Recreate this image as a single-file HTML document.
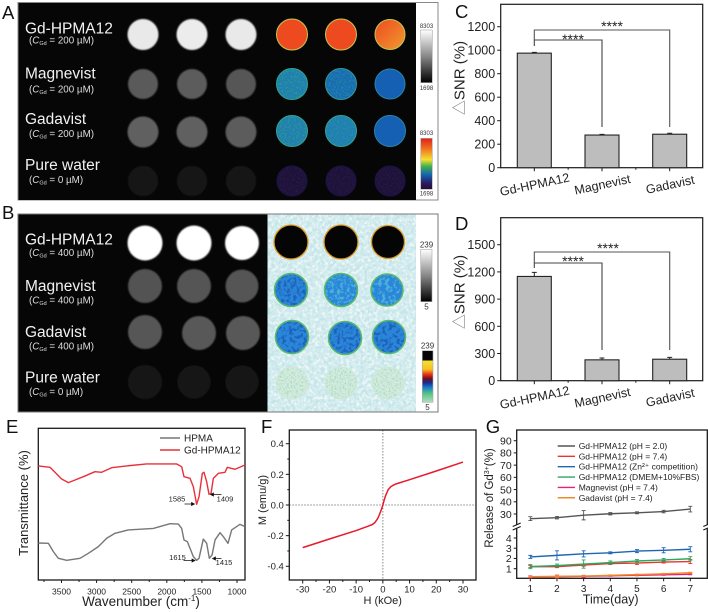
<!DOCTYPE html>
<html lang="en"><head><meta charset="utf-8"><title>Gd-HPMA12 characterization</title>
<style>
html,body{margin:0;padding:0;background:#fff;width:708px;height:612px;overflow:hidden}
svg{display:block}
text{font-family:"Liberation Sans","Noto Sans CJK SC",sans-serif;fill:#222}
.pl{font-size:18.5px;fill:#111}
.nm{font-size:15.5px;fill:#f2f2f2}
.sb{font-size:9.8px;fill:#ddd}
.sb .i{font-style:italic}
.sb .s{font-size:5.5px}
.cb{font-size:6px;text-anchor:middle;fill:#333}
.cb2{font-size:8px}
.sp{filter:url(#spk);opacity:.75}
.sp2{filter:url(#spk2);opacity:.75}
.sf{filter:url(#spk3);opacity:.6}
.sf2{filter:url(#spk4);opacity:.6}
.h1{fill:#1f7fb2;stroke:#34a392;stroke-width:1}
.h2{fill:#186cb2;stroke:#2f9a98;stroke-width:1}
.h3{fill:#1560b2;stroke:#2b84a8;stroke-width:1}
.o1{fill:#3aa97c}
.o2{fill:#3298a0}
.p{fill:#1e1238;stroke:#1a1448;stroke-width:1}
.po{fill:#2e1e54}
.r{fill:#ee4a20;stroke:#c8c850;stroke-width:1}
.k{fill:#050505;stroke:#e09a20;stroke-width:1.3}
.b{fill:#2a86d8;stroke:#5cb86a;stroke-width:1.5}
.bo{fill:#1a55b0}
.bl{fill:#58bedc}
.g{fill:#d4ebe0;stroke:#cfe8d8;stroke-width:1}
.go{fill:#8ccfa6}
</style></head>
<body>
<svg id="fig" xmlns="http://www.w3.org/2000/svg" width="708" height="612" viewBox="0 0 708 612">
<defs>
<filter id="soft"><feGaussianBlur stdDeviation="0.7"/></filter>
<filter id="spk" x="0" y="0" width="1" height="1" color-interpolation-filters="sRGB"><feTurbulence type="fractalNoise" baseFrequency=".32" numOctaves="2" seed="4" result="n"/><feColorMatrix in="n" type="matrix" values="0 0 0 0 0  0 0 0 0 0  0 0 0 0 0  5 0 0 0 -2.3" result="a"/><feComposite in="SourceGraphic" in2="a" operator="in"/></filter>
<filter id="spk2" x="0" y="0" width="1" height="1" color-interpolation-filters="sRGB"><feTurbulence type="fractalNoise" baseFrequency=".28" numOctaves="2" seed="11" result="n"/><feColorMatrix in="n" type="matrix" values="0 0 0 0 0  0 0 0 0 0  0 0 0 0 0  0 6 0 0 -2.9" result="a"/><feComposite in="SourceGraphic" in2="a" operator="in"/></filter>
<filter id="spk3" x="0" y="0" width="1" height="1" color-interpolation-filters="sRGB"><feTurbulence type="fractalNoise" baseFrequency=".55" numOctaves="2" seed="7" result="n"/><feColorMatrix in="n" type="matrix" values="0 0 0 0 0  0 0 0 0 0  0 0 0 0 0  3.5 0 0 0 -1.6" result="a"/><feComposite in="SourceGraphic" in2="a" operator="in"/></filter>
<filter id="spk4" x="0" y="0" width="1" height="1" color-interpolation-filters="sRGB"><feTurbulence type="fractalNoise" baseFrequency=".6" numOctaves="2" seed="15" result="n"/><feColorMatrix in="n" type="matrix" values="0 0 0 0 0  0 0 0 0 0  0 0 0 0 0  0 3.5 0 0 -1.6" result="a"/><feComposite in="SourceGraphic" in2="a" operator="in"/></filter>
<linearGradient id="gbar" x1="0" y1="0" x2="0" y2="1"><stop offset="0" stop-color="#fff"/><stop offset=".5" stop-color="#888"/><stop offset="1" stop-color="#000"/></linearGradient>
<linearGradient id="cbarA" x1="0" y1="0" x2="0" y2="1"><stop offset="0" stop-color="#e0201a"/><stop offset=".2" stop-color="#f07020"/><stop offset=".42" stop-color="#f5e030"/><stop offset=".55" stop-color="#40b050"/><stop offset=".72" stop-color="#1560b0"/><stop offset=".88" stop-color="#2a1a60"/><stop offset="1" stop-color="#201030"/></linearGradient>
<linearGradient id="cbarB" x1="0" y1="0" x2="0" y2="1"><stop offset="0" stop-color="#050505"/><stop offset=".18" stop-color="#050505"/><stop offset=".2" stop-color="#f5e030"/><stop offset=".36" stop-color="#f5c020"/><stop offset=".46" stop-color="#e8301a"/><stop offset=".54" stop-color="#701018"/><stop offset=".62" stop-color="#1a2a90"/><stop offset=".72" stop-color="#1a80d0"/><stop offset=".82" stop-color="#50c080"/><stop offset="1" stop-color="#b0e0c0"/></linearGradient>
<linearGradient id="rg3" x1="0" y1="0" x2="1" y2="1"><stop offset="0" stop-color="#ee4a20"/><stop offset="1" stop-color="#f09a30"/></linearGradient>
</defs>

<g>
<text class="pl" x="2" y="19">A</text>
<rect x="18" y="2.5" width="420" height="197.5" fill="#fff" stroke="#888" stroke-width="1"/>
<rect x="18.5" y="3" width="397.5" height="197" fill="#060606"/>
<g filter="url(#soft)">
<circle cx="143" cy="34.5" r="15.5" fill="#e9e9e9"/><circle cx="192" cy="34.5" r="15.5" fill="#ececec"/><circle cx="241" cy="34.5" r="15.5" fill="#e9e9e9"/>
<circle cx="143" cy="84" r="15" fill="#5a5a5a"/><circle cx="192" cy="84" r="15" fill="#5c5c5c"/><circle cx="241" cy="84" r="15" fill="#565656"/>
<circle cx="143" cy="132" r="15.5" fill="#616161"/><circle cx="192" cy="132" r="15.5" fill="#616161"/><circle cx="241" cy="132" r="15.5" fill="#5c5c5c"/>
<circle cx="143" cy="181" r="15" fill="#181818"/><circle cx="192" cy="181" r="15" fill="#181818"/><circle cx="241" cy="181" r="15" fill="#181818"/>
</g>
<text class="nm" x="25" y="33.3">Gd-HPMA12</text>
<text class="sb" x="29" y="43.3">(<tspan class="i">C</tspan><tspan class="s" dy="1.5">Gd</tspan><tspan dy="-1.5"> = 200 µM)</tspan></text>
<text class="nm" x="25" y="78.7">Magnevist</text>
<text class="sb" x="29" y="92.7">(<tspan class="i">C</tspan><tspan class="s" dy="1.5">Gd</tspan><tspan dy="-1.5"> = 200 µM)</tspan></text>
<text class="nm" x="25" y="124">Gadavist</text>
<text class="sb" x="29" y="137">(<tspan class="i">C</tspan><tspan class="s" dy="1.5">Gd</tspan><tspan dy="-1.5"> = 200 µM)</tspan></text>
<text class="nm" x="25" y="170">Pure water</text>
<text class="sb" x="29" y="183">(<tspan class="i">C</tspan><tspan class="s" dy="1.5">Gd</tspan><tspan dy="-1.5"> = 0 µM)</tspan></text>
<g>
<circle class="r" cx="292" cy="34.5" r="15.5"/><circle class="r" cx="341" cy="34.5" r="15.5"/><circle class="r" cx="390" cy="34.5" r="15" style="fill:url(#rg3)"/>
<circle class="h1" cx="292" cy="84" r="15.5"/><circle class="o1 sf" cx="292" cy="84" r="15"/>
<circle class="h2" cx="341" cy="84" r="15.5"/><circle class="o2 sf" cx="341" cy="84" r="15"/>
<circle class="h3" cx="390" cy="84" r="15"/>
<circle class="h1" cx="292" cy="131" r="15.5"/><circle class="o1 sf2" cx="292" cy="131" r="15"/>
<circle class="h1" cx="341" cy="131" r="15.5"/><circle class="o2 sf2" cx="341" cy="131" r="15"/>
<circle class="h3" cx="390" cy="131" r="15.5"/>
<circle class="p" cx="292" cy="181" r="15"/><circle class="po sf" cx="292" cy="181" r="14.5"/>
<circle class="p" cx="341" cy="181" r="15"/><circle class="po sf" cx="341" cy="181" r="14.5"/>
<circle class="p" cx="390" cy="181" r="15"/><circle class="po sf" cx="390" cy="181" r="14.5"/>
</g>
<rect x="420.7" y="30" width="11.6" height="52.7" fill="url(#gbar)" stroke="#aaa" stroke-width=".6"/>
<text class="cb" x="426.5" y="28">8303</text>
<text class="cb" x="426.5" y="90">1698</text>
<rect x="420.7" y="138.3" width="11.6" height="51" fill="url(#cbarA)" stroke="#aaa" stroke-width=".6"/>
<text class="cb" x="426.5" y="135">8303</text>
<text class="cb" x="426.5" y="195.5">1698</text>
</g>

<g>
<text class="pl" x="2" y="219">B</text>
<rect x="18" y="214" width="420" height="198" fill="#fff" stroke="#777" stroke-width="1"/>
<rect x="18.5" y="214.5" width="249" height="197" fill="#060606"/>
<rect x="267.5" y="214.5" width="148.5" height="197" fill="#d2ebee"/>
<rect class="sp" x="267.5" y="214.5" width="148.5" height="197" fill="#f6fbfb"/>
<rect class="sp2" x="267.5" y="214.5" width="148.5" height="197" fill="#bfe3e6"/>
<g filter="url(#soft)">
<circle cx="145" cy="243" r="17.5" fill="#fff"/><circle cx="194" cy="243" r="17.5" fill="#fff"/><circle cx="242" cy="243" r="17" fill="#fff"/>
<circle cx="145" cy="286" r="17" fill="#535353"/><circle cx="194" cy="286" r="17" fill="#545454"/><circle cx="242" cy="286" r="16.5" fill="#545454"/>
<circle cx="145" cy="332" r="17" fill="#565656"/><circle cx="199" cy="333" r="17" fill="#585858"/><circle cx="243" cy="333" r="17" fill="#585858"/>
<circle cx="145" cy="382" r="17" fill="#161616"/><circle cx="194" cy="382" r="16.5" fill="#161616"/><circle cx="242" cy="382" r="16.5" fill="#161616"/>
</g>
<text class="nm" x="25" y="244.3">Gd-HPMA12</text>
<text class="sb" x="29" y="256">(<tspan class="i">C</tspan><tspan class="s" dy="1.5">Gd</tspan><tspan dy="-1.5"> = 400 µM)</tspan></text>
<text class="nm" x="25" y="291">Magnevist</text>
<text class="sb" x="29" y="303.3">(<tspan class="i">C</tspan><tspan class="s" dy="1.5">Gd</tspan><tspan dy="-1.5"> = 400 µM)</tspan></text>
<text class="nm" x="25" y="337">Gadavist</text>
<text class="sb" x="29" y="349.3">(<tspan class="i">C</tspan><tspan class="s" dy="1.5">Gd</tspan><tspan dy="-1.5"> = 400 µM)</tspan></text>
<text class="nm" x="25" y="382.7">Pure water</text>
<text class="sb" x="29" y="395">(<tspan class="i">C</tspan><tspan class="s" dy="1.5">Gd</tspan><tspan dy="-1.5"> = 0 µM)</tspan></text>
<g>
<circle class="k" cx="291" cy="242" r="17"/><circle class="k" cx="341" cy="242" r="17"/><circle class="k" cx="388" cy="242" r="16.5"/>
<circle class="b" cx="291" cy="290" r="16.5"/><circle class="bo sp" cx="291" cy="290" r="15.5"/>
<circle class="b" cx="341" cy="290" r="16.5"/><circle class="bl sp" cx="341" cy="290" r="15.5"/>
<circle class="b" cx="387" cy="290" r="16"/><circle class="bl sp2" cx="387" cy="290" r="15"/>
<circle class="b" cx="292" cy="337" r="16.5"/><circle class="bo sp2" cx="292" cy="337" r="15.5"/>
<circle class="b" cx="345" cy="338" r="16.5"/><circle class="bo sp" cx="345" cy="338" r="15.5"/>
<circle class="b" cx="389" cy="337" r="16.5"/><circle class="bo sp2" cx="389" cy="337" r="15.5"/>
<circle class="g" cx="292" cy="383" r="16"/><circle class="go sf" cx="292" cy="383" r="15.5"/>
<circle class="g" cx="341" cy="383" r="16"/><circle class="go sf2" cx="341" cy="383" r="15.5"/>
<circle class="g" cx="388" cy="383" r="16"/><circle class="go sf" cx="388" cy="383" r="15.5"/>
</g>
<rect x="420.7" y="249.3" width="11.3" height="52.4" fill="url(#gbar)" stroke="#aaa" stroke-width=".6"/>
<text class="cb cb2" x="426.5" y="247.5">239</text>
<text class="cb cb2" x="426.5" y="309.5">5</text>
<rect x="422.3" y="350.7" width="10.7" height="51.6" fill="url(#cbarB)" stroke="#aaa" stroke-width=".6"/>
<text class="cb cb2" x="427.5" y="348.5">239</text>
<text class="cb cb2" x="427.5" y="410">5</text>
</g>

<text class="pl" x="455" y="18">C</text>
<text class="pl" x="455" y="230">D</text>
<text class="pl" x="6" y="433">E</text>
<text class="pl" x="261" y="433">F</text>
<text class="pl" x="485.7" y="433">G</text>

<text transform="translate(464.5,78) rotate(-90)" text-anchor="middle" font-size="15"><tspan style="fill:#777">△</tspan>SNR (%)</text>
<text transform="translate(464.5,292) rotate(-90)" text-anchor="middle" font-size="15"><tspan style="fill:#777">△</tspan>SNR (%)</text>
<text transform="translate(28,503) rotate(-90)" text-anchor="middle" font-size="13">Transmittance (%)</text>
<text x="141" y="606" text-anchor="middle" font-size="13.5">Wavenumber (cm<tspan font-size="8" dy="-5">-1</tspan><tspan dy="5">)</tspan></text>
<text transform="translate(266,500) rotate(-90)" text-anchor="middle" font-size="11">M (emu/g)</text>
<text x="382.7" y="604" text-anchor="middle" font-size="11">H (kOe)</text>
<text transform="translate(493,498) rotate(-90)" text-anchor="middle" font-size="11.5">Release of Gd<tspan font-size="7" dy="-4">3+</tspan><tspan dy="4">(%)</tspan></text>
<text x="610.7" y="603.5" text-anchor="middle" font-size="12.5">Time(day)</text>

<g id="chart-c"></g>
<g id="chart-d"></g>
<g id="chart-e"></g>
<g id="chart-f"></g>
<g id="chart-g"></g>
</svg>
<script>
// ---- Chart C / D data
const barCategories = ['Gd-HPMA12', 'Magnevist', 'Gadavist'];
const snrC = [975, 278, 285];
const errC = [6, 6, 8];
const ticksC = [0, 200, 400, 600, 800, 1000, 1200];
const snrD = [1150, 230, 237];
const errD = [45, 20, 20];
const ticksD = [0, 300, 600, 900, 1200, 1500];
// ---- Chart E data
const wavenumberRed = [3830,3664,3593,3498,3402,3307,3189,3023,2928,2785,2572,2287,1859,1788,1755,1669,1622,1575,1541,1494,1470,1432,1399,1370,1337,1266,1171,1138,1028,886];
const transRed = [75.2,74.3,71,66.6,64.2,65.9,68.1,71.4,71,74,75.2,76.5,76.5,74.7,68.1,67,61.5,49.9,54.9,70.3,71,64.8,56.5,57.1,67,70.3,71,74.3,73,75.8];
const wavenumberGray = [3830,3687,3616,3545,3426,3236,3118,2975,2856,2738,2548,2192,1954,1836,1788,1755,1707,1622,1575,1541,1480,1432,1394,1355,1313,1242,1195,1128,1076,957,886];
const transGray = [24.4,24.2,18.7,14.3,13,14.3,17.6,22,27.5,30.8,33,34,37.1,36.9,34,26.4,25.3,15.4,13,14.3,27,24.2,14.3,16.5,26.4,31.2,28.6,24.2,33,36.7,35.2];
const ticksE = [3500, 3000, 2500, 2000, 1500, 1000];
const minorTicksE = [3750, 3250, 2750, 2250, 1750, 1250];
// ---- Chart F data
const fieldH = [-30,-20,-10,-5,-4,-3,-2,-1.5,-1,-0.5,0,0.5,1,1.5,2,3,4,5,10,20,30];
const momentM = [-0.278,-0.222,-0.167,-0.135,-0.128,-0.115,-0.09,-0.072,-0.05,-0.027,0,0.032,0.06,0.08,0.1,0.12,0.13,0.138,0.165,0.222,0.28];
const ticksFx = [-30,-20,-10,0,10,20,30];
const minorFx = [-25,-15,-5,5,15,25];
const ticksFy = [-0.4,-0.2,0,0.2,0.4];
const minorFy = [-0.3,-0.1,0.1,0.3];
// ---- Chart G data
const days = [1,2,3,4,5,6,7];
const seriesNames = ['Gd-HPMA12 (pH = 2.0)','Gd-HPMA12 (pH = 7.4)','Gd-HPMA12 (Zn²⁺ competition)','Gd-HPMA12 (DMEM+10%FBS)','Magnevist (pH = 7.4)','Gadavist (pH = 7.4)'];
const releasePh2 = [26.2,27,29,30.2,31,32,34];
const errPh2 = [1.6,1,3.8,1,.8,1,2.3];
const releasePh74 = [1.2,1.2,1.35,1.5,1.55,1.65,1.7];
const errPh74 = [.1,.1,.1,.1,.15,.1,.2];
const releaseZn = [2.15,2.3,2.45,2.55,2.72,2.8,2.9];
const errZn = [.15,.45,.3,.1,.15,.25,.25];
const releaseDmem = [1.2,1.3,1.45,1.6,1.75,1.85,1.97];
const errDmem = [.2,.15,.4,.15,.15,.15,.2];
const releaseMag = [.2,.22,.25,.3,.35,.4,.45];
const errMag = [.1,.15,.1,.05,.05,.05,.05];
const releaseGad = [.22,.25,.28,.35,.42,.5,.6];
const errGad = [.05,.1,.05,.05,.05,.05,.05];
const ticksGUpper = [30,40,50,60,70,80,90];
const ticksGLower = [1,2,3,4];

const NS = 'http://www.w3.org/2000/svg';
function mk(tag, attrs, parent, txt) {
  const el = document.createElementNS(NS, tag);
  for (const k in attrs) el.setAttribute(k, attrs[k]);
  if (txt !== undefined) el.textContent = txt;
  parent.appendChild(el);
  return el;
}
function linear(d0, d1, r0, r1) { return v => r0 + (v - d0) * (r1 - r0) / (d1 - d0); }
function frame(g, x0, y0, x1, y1, sw) {
  const el = mk('rect', {x:x0, y:y0, width:x1-x0, height:y1-y0, fill:'none', stroke:'#1a1a1a', 'stroke-width':sw||1.2}, g);
  
  
}
function ticksY(g, scale, vals, x0, len, size, fmt) {
  vals.forEach(v => {
    const t = mk('line', {x1:x0-len, x2:x0, y1:scale(v), y2:scale(v), stroke:'#1a1a1a', 'stroke-width':1}, g);
    
    
    if (size) {
      const l = mk('text', {x:x0-len-2, y:scale(v)+size*0.36, 'text-anchor':'end', 'font-size':size}, g, fmt ? fmt(v) : v);
      
      
    }
  });
}
function ticksX(g, scale, vals, y0, len, size, yLabel) {
  vals.forEach(v => {
    const t = mk('line', {x1:scale(v), x2:scale(v), y1:y0, y2:y0+len, stroke:'#1a1a1a', 'stroke-width':1}, g);
    
    
    if (size) {
      const l = mk('text', {x:scale(v), y:yLabel, 'text-anchor':'middle', 'font-size':size}, g, v);
      
      
    }
  });
}
function pathOf(xs, ys, sx, sy) { return xs.map((x, i) => (i ? 'L' : 'M') + sx(x).toFixed(2) + ' ' + sy(ys[i]).toFixed(2)).join(''); }

// ---- Bar charts
function barChart(g, vals, errs, ticks, yScale, y0, yTop, innerY, outerY, stubY, dropY, star1, star2) {
  const band = linear(0, 2, 534.3, 669.7);
  frame(g, 500.7, yTop, 702.7, y0);
  ticksY(g, yScale, ticks, 500.7, 3.5, 12.5);
  barCategories.forEach((c, i) => {
    const h = y0 - yScale(vals[i]);
    const eb = mk('path', {d:`M${band(i)} ${yScale(vals[i])}V${yScale(vals[i]+errs[i])}M${band(i)-2.5} ${yScale(vals[i]+errs[i])}h5`, stroke:'#222', 'stroke-width':1, fill:'none'}, g);
    
    
    const b = mk('rect', {x:band(i)-17, y:yScale(vals[i]), width:34, height:h, fill:'#bdbdbd', stroke:'#222', 'stroke-width':1.1}, g);
    
    
    const t = mk('line', {x1:band(i), x2:band(i), y1:y0, y2:y0+3.5, stroke:'#1a1a1a', 'stroke-width':1}, g);
    
    
    if (i < 2) {
      const m = mk('line', {x1:band(i+.5), x2:band(i+.5), y1:y0, y2:y0+2, stroke:'#1a1a1a', 'stroke-width':1}, g);
      
      
    }
    const cx = band(i) + 1.3;
    const cy = y0 + 21;
    const l = mk('text', {x:cx, y:cy, 'text-anchor':'middle', 'font-size':12.5, transform:`rotate(-12 ${cx} ${cy})`}, g, c);
    
    
  });
  const br1 = mk('path', {d:`M${band(0)} ${stubY}V${innerY}H${band(1)}V${dropY}`, fill:'none', stroke:'#444', 'stroke-width':1.1}, g);
  
  
  const br2 = mk('path', {d:`M${band(0)} ${innerY}V${outerY}H${band(2)}V${dropY}`, fill:'none', stroke:'#555', 'stroke-width':1.1}, g);
  
  
  const s1 = mk('text', {x:573, y:star1, 'text-anchor':'middle', 'font-size':14}, g, '****');
  
  
  const s2 = mk('text', {x:star2[0], y:star2[1], 'text-anchor':'middle', 'font-size':14}, g, '****');
  
  
}
barChart(document.getElementById('chart-c'), snrC, errC, ticksC, linear(0,1200,167.7,26.7), 167.7, 4.3, 40, 30, 46, 127, 44, [612,31]);
barChart(document.getElementById('chart-d'), snrD, errD, ticksD, linear(0,1500,380.7,244.7), 380.7, 217.7, 263, 252, 268, 350, 266, [608,253]);

// ---- Chart E
(function () {
  const g = document.getElementById('chart-e');
  const x = linear(1000, 3500, 237, 61.5);
  const y = linear(0, 100, 580, 428.3);
  frame(g, 38.3, 428.3, 245, 580, 1.3);
  ticksX(g, x, ticksE, 580, 3, 8.5, 594.5);
  ticksX(g, x, minorTicksE, 580, 2, 0);
  const gl = mk('path', {d:pathOf(wavenumberGray, transGray, x, y), fill:'none', stroke:'#777', 'stroke-width':1.4, 'stroke-linejoin':'round'}, g);
  
  
  const rl = mk('path', {d:pathOf(wavenumberRed, transRed, x, y), fill:'none', stroke:'#e8303a', 'stroke-width':1.4, 'stroke-linejoin':'round'}, g);
  
  
  const lg1 = mk('line', {x1:160, x2:180, y1:438, y2:438, stroke:'#777', 'stroke-width':1.4}, g);
  
  
  const lt1 = mk('text', {x:184, y:441.5, 'font-size':10}, g, 'HPMA');
  
  
  const lg2 = mk('line', {x1:160, x2:180, y1:450, y2:450, stroke:'#e8303a', 'stroke-width':1.4}, g);
  
  
  const lt2 = mk('text', {x:184, y:453.5, 'font-size':10}, g, 'Gd-HPMA12');
  
  
  const peaks = [['1585',177,501.5,184.5,194.5,504],['1409',225,501.5,221.5,210.5,494.5],['1615',177.5,560,183.5,195,560.5],['1415',224,565,221.5,212.5,558.5]];
  peaks.forEach(p => {
    const t = mk('text', {x:p[1], y:p[2], 'text-anchor':'middle', 'font-size':7.5}, g, p[0]);
    
    
    const dir = p[4] > p[3] ? 1 : -1;
    const a = mk('path', {d:`M${p[3]} ${p[5]}H${p[4]}M${p[4]} ${p[5]}l${-3*dir} -1.6v3.2z`, stroke:'#111', fill:'#111', 'stroke-width':.7}, g);
    
    
  });
})();

// ---- Chart F
(function () {
  const g = document.getElementById('chart-f');
  const x = linear(-30, 30, 302.7, 463);
  const y = linear(-0.4, 0.4, 566.3, 443.7);
  const zh = mk('line', {x1:289.3, x2:476, y1:y(0), y2:y(0), stroke:'#888', 'stroke-width':1, 'stroke-dasharray':'1.5 1.5'}, g);
  
  
  const zv = mk('line', {x1:x(0), x2:x(0), y1:430, y2:580, stroke:'#888', 'stroke-width':1, 'stroke-dasharray':'1.5 1.5'}, g);
  
  
  frame(g, 289.3, 430, 476, 580, 1.3);
  ticksX(g, x, ticksFx, 580, 3.5, 9.5, 592.5);
  ticksX(g, x, minorFx, 580, 2, 0);
  ticksY(g, y, ticksFy, 289.3, 3.5, 9.5, v => v.toFixed(1));
  ticksY(g, y, minorFy, 289.3, 2, 0);
  const c = mk('path', {d:pathOf(fieldH, momentM, x, y), fill:'none', stroke:'#e8192c', 'stroke-width':1.5, 'stroke-linejoin':'round'}, g);
  
  
})();

// ---- Chart G
(function () {
  const g = document.getElementById('chart-g');
  const x = linear(1, 7, 530.3, 690.3);
  const yUp = linear(30, 90, 514, 440.7);
  const yLo = linear(0, 4, 578.9, 538);
  const y = v => v >= 10 ? yUp(v) : yLo(v);
  frame(g, 516.7, 430, 707.3, 578.3, 1.3);
  ticksX(g, x, days, 578.3, 3, 10, 592);
  ticksY(g, y, ticksGUpper, 516.7, 3, 10.5);
  ticksY(g, y, ticksGLower, 516.7, 3, 10.5);
  [516.7, 707.3].forEach(ax => {
    const gap = mk('rect', {x:ax-2, y:524.7, width:4, height:4, fill:'#fff'}, g);
    
    
    const sl = mk('path', {d:`M${ax-4} ${526.5}l8 -3.5M${ax-4} ${530}l8 -3.5`, stroke:'#111', 'stroke-width':1, fill:'none'}, g);
    
    
  });
  const allVals = [releasePh2, releasePh74, releaseZn, releaseDmem, releaseMag, releaseGad];
  const allErrs = [errPh2, errPh74, errZn, errDmem, errMag, errGad];
  const colors = ['#555555', '#e8352e', '#1d66b5', '#2aa860', '#e6207f', '#f08a24'];
  allVals.forEach((vals, s) => {
    const e = mk('path', {d:days.map((d, i) => {
      const a = y(vals[i]-allErrs[s][i]), b = y(vals[i]+allErrs[s][i]), px = x(d);
      return `M${px} ${a}V${b}M${px-2} ${a}h4M${px-2} ${b}h4`;
    }).join(''), stroke:colors[s], 'stroke-width':.9, fill:'none'}, g);
    
    
    const l = mk('path', {d:pathOf(days, vals, x, y), stroke:colors[s], 'stroke-width':1.4, fill:'none'}, g);
    
    
    const ly = 446 + s * 10.35;
    const sw = mk('line', {x1:557.7, x2:575, y1:ly, y2:ly, stroke:colors[s], 'stroke-width':1.4}, g);
    
    
    const t = mk('text', {x:578.7, y:ly+3, 'font-size':8.5}, g, seriesNames[s]);
    
    
  });
})();
</script>
</body></html>
